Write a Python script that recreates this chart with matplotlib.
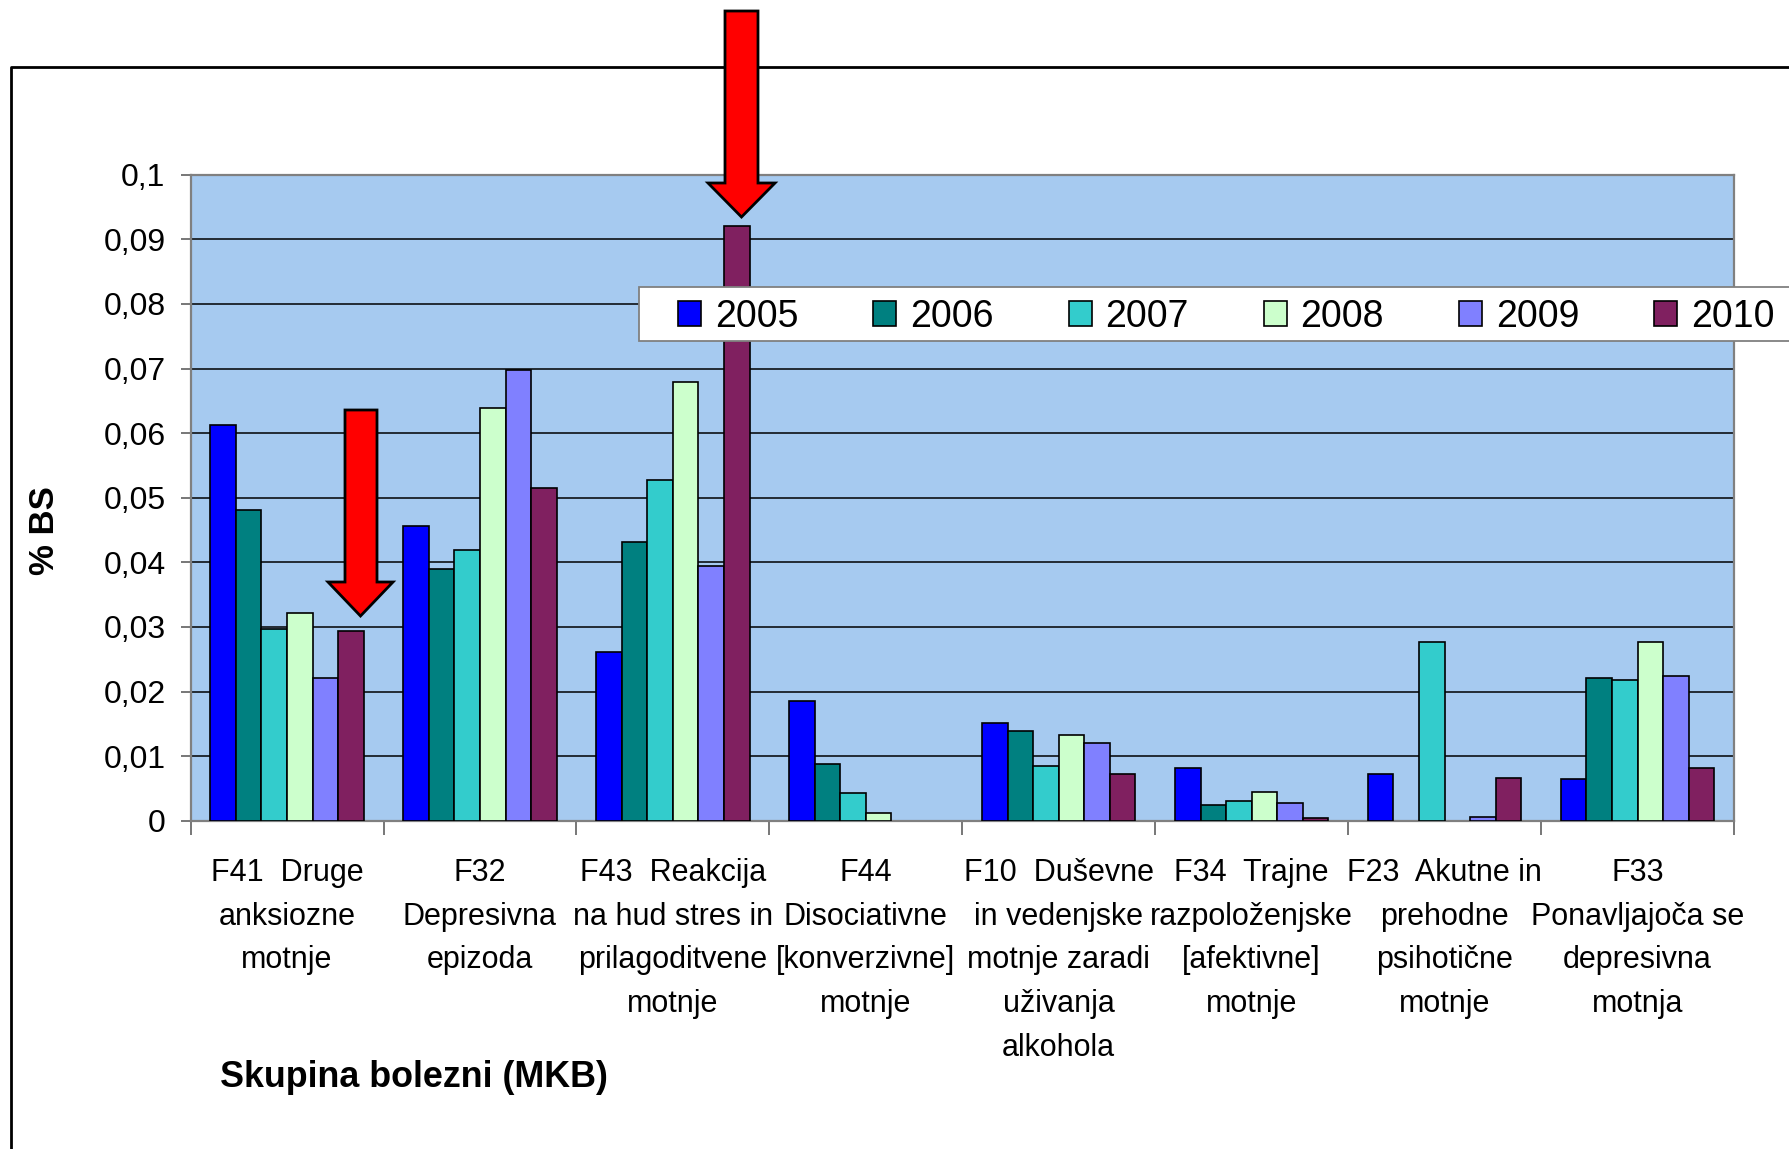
import matplotlib
matplotlib.use("Agg")
import matplotlib.pyplot as plt
from matplotlib.patches import Polygon, Rectangle
from matplotlib.lines import Line2D
import numpy as np

# ---------------- data ----------------
categories = [
    "F41  Druge\nanksiozne\nmotnje",
    "F32\nDepresivna\nepizoda",
    "F43  Reakcija\nna hud stres in\nprilagoditvene\nmotnje",
    "F44\nDisociativne\n[konverzivne]\nmotnje",
    "F10  Duševne\nin vedenjske\nmotnje zaradi\nuživanja\nalkohola",
    "F34  Trajne\nrazpoloženjske\n[afektivne]\nmotnje",
    "F23  Akutne in\nprehodne\npsihotične\nmotnje",
    "F33\nPonavljajoča se\ndepresivna\nmotnja",
]
years = ["2005", "2006", "2007", "2008", "2009", "2010"]
v2005 = [0.0612, 0.0456, 0.0261, 0.0185, 0.0152, 0.0082, 0.0073, 0.0064]
v2006 = [0.0481, 0.0389, 0.0432, 0.0088, 0.0139, 0.0024, 0.0, 0.0221]
v2007 = [0.0297, 0.0419, 0.0527, 0.0043, 0.0085, 0.0030, 0.0276, 0.0218]
v2008 = [0.0321, 0.0639, 0.0679, 0.0012, 0.0133, 0.0045, 0.0, 0.0276]
v2009 = [0.0221, 0.0698, 0.0395, 0.0, 0.0121, 0.0027, 0.0006, 0.0224]
v2010 = [0.0294, 0.0515, 0.0921, 0.0, 0.0073, 0.0004, 0.0067, 0.0082]
series = [v2005, v2006, v2007, v2008, v2009, v2010]
yticks = [0, 0.01, 0.02, 0.03, 0.04, 0.05, 0.06, 0.07, 0.08, 0.09, 0.1]
ytick_labels = ["0", "0,01", "0,02", "0,03", "0,04", "0,05", "0,06", "0,07", "0,08", "0,09", "0,1"]
ylabel = "% BS"
xlabel = "Skupina bolezni (MKB)"

colors = ["#0000FF", "#008080", "#33CCCC", "#CCFFCC", "#8080FF", "#802060"]

W, H = 1790, 1149
fig = plt.figure(figsize=(W / 100, H / 100), dpi=100)
fig.patch.set_facecolor("white")

def fx(px):
    return px / W

def fy(py):
    return 1 - py / H

ax_l, ax_r, ax_t, ax_b = 190.6, 1734.0, 174.7, 820.8
ax = fig.add_axes([fx(ax_l), fy(ax_b), (ax_r - ax_l) / W, (ax_b - ax_t) / H])
ax.set_facecolor("#A6CAF0")

FONT = ["Liberation Sans", "DejaVu Sans"]

x = np.arange(len(categories))
bw = 0.1325
handles = []
for i, (yr, vals, c) in enumerate(zip(years, series, colors)):
    b = ax.bar(x + (i - 2.5) * bw, vals, width=bw, color=c, edgecolor="black",
               linewidth=1.2, label=yr, zorder=3)
    for p in b.patches:
        if p.get_height() == 0:
            p.set_linewidth(0)
    handles.append(b)

ax.set_xlim(-0.5, len(categories) - 0.5)
ax.set_ylim(0, 0.1)
ax.set_yticks(yticks)
ax.set_yticklabels(ytick_labels, family=FONT, fontsize=23)
ax.yaxis.grid(True, color="black", linewidth=1.1, zorder=1)
ax.set_axisbelow(True)
ax.tick_params(axis="y", direction="out", length=7, width=1.2, color="#606060", pad=11)

# category labels at centres, boundary ticks as minor ticks
ax.set_xticks(x)
ax.set_xticklabels(categories, family=FONT, fontsize=22, linespacing=1.59, va="top")
ax.tick_params(axis="x", which="major", length=0, pad=27)
ax.set_xticks(np.arange(-0.5, len(categories) + 0.5, 1.0), minor=True)
ax.tick_params(axis="x", which="minor", length=10, width=1.2, color="#606060", direction="out")

for s in ax.spines.values():
    s.set_color("#808080")
    s.set_linewidth(1.6)

ax.set_ylabel(ylabel, family=FONT, fontsize=25, fontweight="bold")
ax.yaxis.set_label_coords((45 - ax_l) / (ax_r - ax_l), (ax_b - 531) / (ax_b - ax_t))
ax.yaxis.label.set_va("center")

ax.set_xlabel(xlabel, family=FONT, fontsize=25.8, fontweight="bold", ha="left", va="baseline")
ax.xaxis.set_label_coords((220 - ax_l) / (ax_r - ax_l), (ax_b - 1087) / (ax_b - ax_t))

# outer chart-area border (continues past right and bottom edge)
fig.add_artist(Line2D([fx(11.5), fx(11.5), 1.01], [-0.01, fy(66.7), fy(66.7)],
                      color="black", linewidth=2.0, zorder=2))

# legend frame + legend
fig.add_artist(Rectangle((fx(639), fy(341)), fx(1200), (341 - 287) / H,
                         facecolor="white", edgecolor="#808080", linewidth=1.3, zorder=4.5))
leg = fig.legend(handles=handles, labels=years, loc="center left",
                 bbox_to_anchor=(fx(678), fy(317)), ncol=6, frameon=False,
                 borderpad=0, borderaxespad=0, handlelength=0.62, handleheight=0.64,
                 handletextpad=0.36, columnspacing=2.0,
                 prop={"family": FONT, "size": 27})
leg.set_zorder(5)

# red arrows
def arrow(xl, xr, top, hb, hl, hr, tip):
    xc = (hl + hr) / 2
    pts = [(xl, top), (xr, top), (xr, hb), (hr, hb), (xc, tip), (hl, hb), (xl, hb)]
    poly = Polygon([(fx(px), fy(py)) for px, py in pts], closed=True,
                   facecolor="#FF0000", edgecolor="black", linewidth=2.0, zorder=10,
                   transform=fig.transFigure)
    fig.add_artist(poly)

arrow(345, 377, 410, 582, 328, 393, 616)
arrow(725, 758, 11, 183, 708, 775, 217)

fig.savefig("out.png", dpi=100)
